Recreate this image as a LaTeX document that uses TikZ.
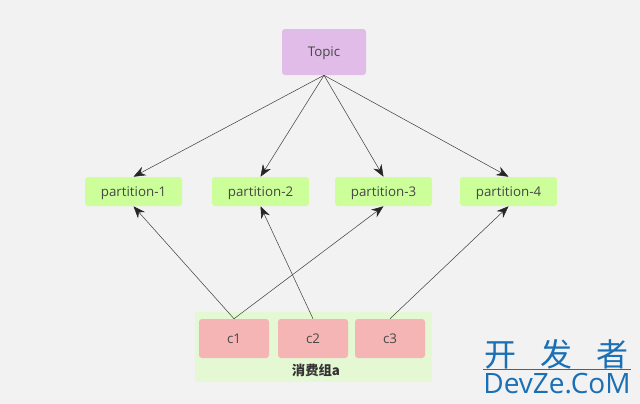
\documentclass[tikz,border=0pt]{standalone}
\usepackage{fontspec}
\setmainfont{Open Sans}
\newfontfamily\cjk{Noto Sans CJK SC}
\usetikzlibrary{arrows.meta}
\definecolor{bgc}{HTML}{F2F2F2}
\definecolor{topicc}{HTML}{E2BCE8}
\definecolor{partc}{HTML}{CCFF99}
\definecolor{consc}{HTML}{F6B5B5}
\definecolor{groupc}{HTML}{E3F8D3}
\definecolor{markc}{HTML}{1A6FB5}
\definecolor{linec}{HTML}{444444}
\tikzset{
  x=0.75pt,y=-0.75pt,
  boxbase/.style={rounded corners=2.2pt,inner sep=0pt,font=\fontsize{10}{12}\selectfont,text=black!72},
  topicbox/.style={boxbase,fill=topicc,minimum width=63pt,minimum height=34.5pt,text depth=0pt},
  partbox/.style={boxbase,fill=partc,minimum width=72.75pt,minimum height=21.75pt,text depth=0pt},
  consbox/.style={boxbase,fill=consc,minimum width=52.5pt,minimum height=29.25pt},
  conn/.style={draw=linec,line width=0.4pt,-{Stealth[length=9pt,width=7pt,color=black!85]}}
}
\begin{document}
\begin{tikzpicture}
\path[use as bounding box,fill=bgc] (0,0) rectangle (640,404);
\node[fill=groupc,inner sep=0pt,minimum width=177.75pt,minimum height=52.5pt] (grp) at (313.5,347) {};
\node[topicbox] (topic) at (324,52) {Topic};
\node[partbox] (p1) at (133.5,191.5) {partition-1};
\node[partbox] (p2) at (260.5,191.5) {partition-2};
\node[partbox] (p3) at (383.5,191.5) {partition-3};
\node[partbox] (p4) at (508.5,191.5) {partition-4};
\node[consbox] (c1) at (234,338.5) {c1};
\node[consbox] (c2) at (313,338.5) {c2};
\node[consbox] (c3) at (390,338.5) {c3};
\node[inner sep=0pt,font=\cjk\bfseries\fontsize{10}{12}\selectfont,text=black!80] (glabel) at (316,370) {消费组a};
\draw[conn] (topic.south) -- (p1.north);
\draw[conn] (topic.south) -- (p2.north);
\draw[conn] (topic.south) -- (p3.north);
\draw[conn] (topic.south) -- (p4.north);
\draw[conn] (c1.north) -- (p1.south);
\draw[conn] (c1.north) -- (p3.south);
\draw[conn] (c2.north) -- (p2.south);
\draw[conn] (c3.north) -- (p4.south);
\node[inner sep=0pt,font=\cjk\fontsize{24}{28}\selectfont,text=markc] (mk1) at (556.5,354) {开\hspace{18pt}发\hspace{18pt}者};
\node[inner sep=0pt,font=\fontsize{21}{24}\selectfont,text=markc] (mk2) at (557,383.5) {DevZe.CoM};
\draw[markc,line width=0.4pt] ([yshift=3pt]mk2.north west) -- ([yshift=3pt]mk2.north east);
\end{tikzpicture}
\end{document}
